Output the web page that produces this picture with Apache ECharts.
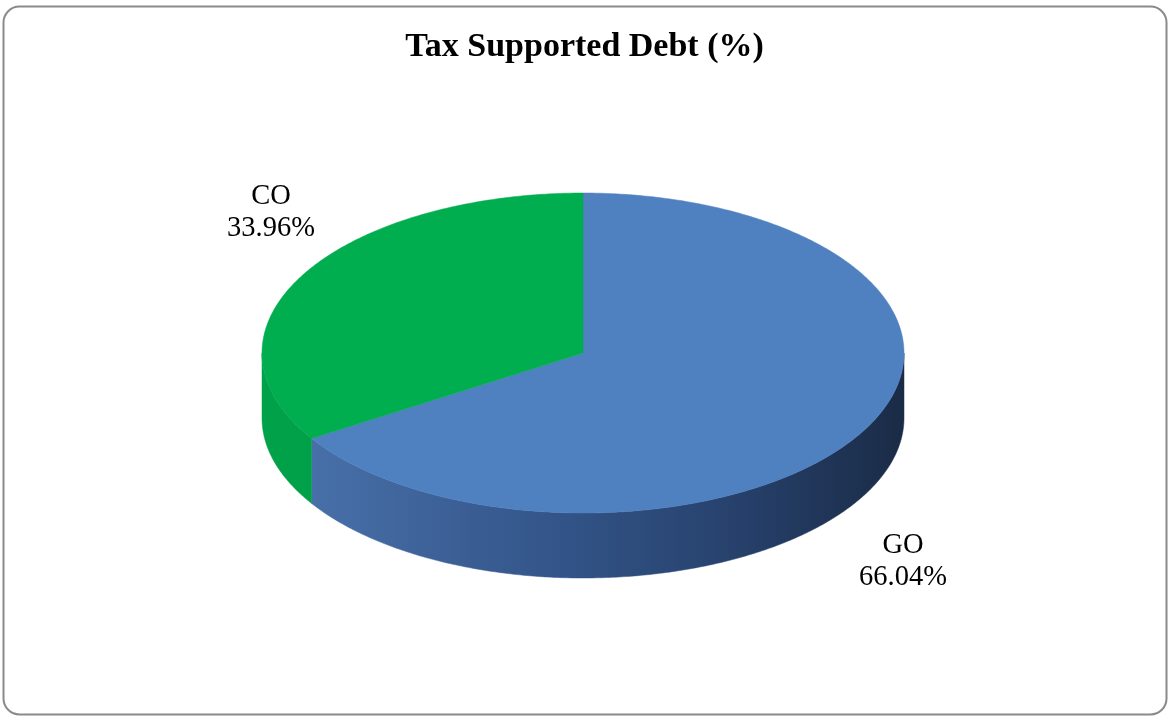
<!DOCTYPE html>
<html>
<head>
<meta charset="utf-8">
<script src="https://cdn.jsdelivr.net/npm/echarts@6/dist/echarts.min.js"></script>
<style>
html,body{margin:0;padding:0;background:#fff;}
#chart{width:1169px;height:717px;}
</style>
</head>
<body>
<div id="chart"></div>
<script>
const categories = ['GO', 'CO'];
const values = [66.04, 33.96];
const chartTitle = 'Tax Supported Debt (%)';

const topColors = ['#4f80c0', '#00ad4f'];
const labelPos = [[903, 562], [271, 213]];

const CX = 583, CY = 353, RX = 321, RY = 160, DEPTH = 65;
const total = values.reduce((a, b) => a + b, 0);

function pt(t, dy) {
  return [CX + RX * Math.sin(t), CY - RY * Math.cos(t) + dy];
}
function arc(a, b, dy) {
  const n = Math.max(2, Math.ceil((b - a) / 0.01));
  const out = [];
  for (let i = 0; i <= n; i++) out.push(pt(a + (b - a) * i / n, dy));
  return out;
}

const sideFills = [
  { type: 'linear', x: CX - RX, y: 0, x2: CX + RX, y2: 0, global: true,
    colorStops: [{ offset: 0, color: '#4c75ae' }, { offset: 0.45, color: '#33558a' }, { offset: 0.75, color: '#26406a' }, { offset: 1, color: '#1a2b46' }] },
  { type: 'linear', x: CX - RX, y: 0, x2: CX + RX, y2: 0, global: true,
    colorStops: [{ offset: 0, color: '#00a249' }, { offset: 1, color: '#008a3c' }] }
];

const chart = echarts.init(document.getElementById('chart'), null, { renderer: 'canvas' });

chart.setOption({
  backgroundColor: '#ffffff',
  animation: false,
  title: {
    text: chartTitle,
    left: 'center',
    top: 25,
    textStyle: { fontFamily: 'Liberation Serif', fontWeight: 'bold', fontSize: 34, color: '#000' }
  },
  graphic: [{
    type: 'rect',
    shape: { x: 3.5, y: 6.5, width: 1163, height: 708, r: 16 },
    style: { fill: 'none', stroke: '#8a8a8a', lineWidth: 2 },
    z: 100
  }],
  series: [{
    type: 'custom',
    coordinateSystem: 'none',
    data: values.map((v, i) => ({ name: categories[i], value: v })),
    renderItem: function (params, api) {
      const i = params.dataIndex;
      let before = 0;
      for (let k = 0; k < i; k++) before += values[k];
      const start = before / total * Math.PI * 2;
      const end = (before + values[i]) / total * Math.PI * 2;
      const children = [];
      const a = Math.max(start, Math.PI / 2), b = Math.min(end, Math.PI * 1.5);
      if (a < b) {
        const top = arc(a, b, 0);
        const bot = arc(a, b, DEPTH).reverse();
        children.push({
          type: 'polygon', z2: 1,
          shape: { points: top.concat(bot) },
          style: { fill: sideFills[i], stroke: sideFills[i], lineWidth: 0.5 }
        });
      }
      children.push({
        type: 'polygon', z2: 2,
        shape: { points: [[CX, CY]].concat(arc(start, end, 0)) },
        style: { fill: topColors[i], stroke: topColors[i], lineWidth: 0.5 }
      });
      children.push({
        type: 'text', z2: 3,
        style: {
          text: categories[i] + '\n' + api.value(0).toFixed(2) + '%',
          x: labelPos[i][0], y: labelPos[i][1],
          align: 'center', verticalAlign: 'middle',
          font: '28.5px "Liberation Serif"', lineHeight: 32, fill: '#000'
        }
      });
      return { type: 'group', children: children };
    }
  }]
});
</script>
</body>
</html>
